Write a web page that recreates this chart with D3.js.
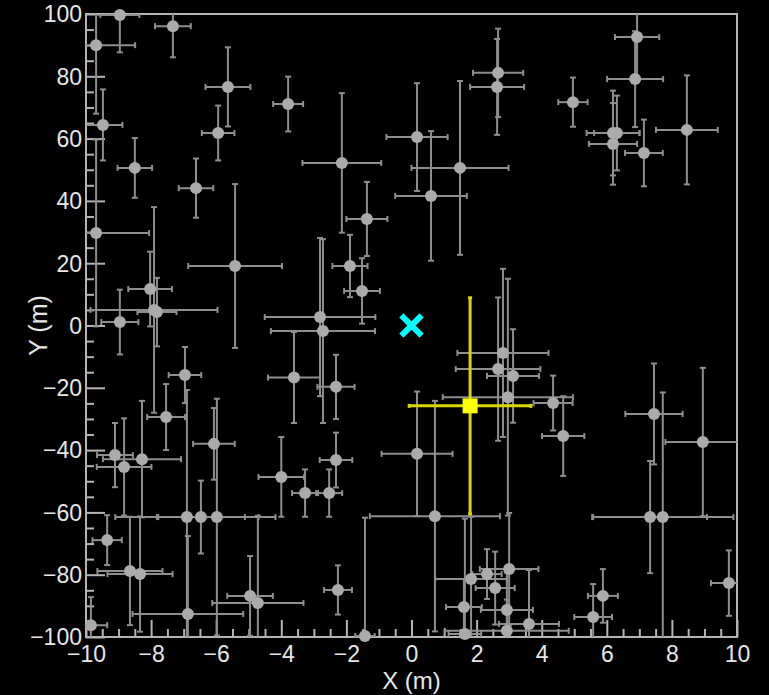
<!DOCTYPE html>
<html>
<head>
<meta charset="utf-8">
<script src="https://cdn.jsdelivr.net/npm/d3@7"></script>
<style>
  html, body { margin: 0; padding: 0; background: #000; }
  svg { display: block; }
  text { font-family: "Liberation Sans", Arial, Helvetica, sans-serif; }
</style>
</head>
<body>
<svg id="chart" width="769" height="695"></svg>
<script>
// Measured positions (m) and their uncertainties
const ptX = [-8.96, -9.69, -7.33, -5.64, -9.48, -5.94, -8.50, -6.62, -9.69, -3.79,
             -2.14, -1.37, 0.17, 1.49, 0.60, 2.66, 2.63, 6.93, 6.87, 4.96,
             6.19, 6.31, 6.19, 7.14, 8.46, -5.42, -8.96, -8.03, -7.91, -7.82,
             -6.96, -7.54, -6.07, -9.11, -8.83, -8.28, -8.34, -8.65, -6.90, -6.47,
             -5.98, -9.35, -6.87, -9.85, -4.96, -4.72, -4.00, -3.27, -2.53, -2.32,
             0.72, -1.43, -2.26, 0.17, -3.61, -2.32, -2.81, -2.72, -1.89, -1.52,
             2.81, 2.66, 3.12, 2.96, 4.35, 4.66, 7.45, 8.95, 7.33, 7.72,
             9.75, 5.88, 5.58, 3.00, 2.32, 1.83, 2.57, 1.61, 1.64, 2.93,
             2.93, 3.61];
const ptY = [99.7, 90.0, 96.1, 76.6, 64.4, 61.8, 50.6, 44.1, 29.7, 71.1,
             52.2, 34.2, 60.5, 50.6, 41.6, 81.1, 76.6, 92.6, 79.1, 71.7,
             61.8, 61.8, 58.3, 55.4, 62.8, 19.1, 1.1, 11.7, 5.0, 4.3,
             -15.9, -29.4, -38.0, -41.6, -45.4, -42.9, -79.8, -78.8, -61.5, -61.5,
             -61.5, -68.9, -92.6, -96.2, -86.8, -89.1, -48.6, -53.8, -53.8, -43.2,
             -61.2, -99.7, -84.9, -41.2, -16.7, -19.7, 2.7, -1.8, 19.1, 11.1,
             -8.8, -14.0, -16.2, -23.0, -24.9, -35.5, -28.4, -37.4, -61.5, -61.5,
             -82.7, -86.8, -93.6, -78.2, -79.8, -81.4, -84.3, -90.4, -99.0, -91.3,
             -98.0, -95.8];
const ptXErr = [0.60, 1.20, 0.55, 0.69, 0.60, 0.50, 0.53, 0.53, 1.63, 0.46,
                1.21, 0.63, 0.94, 1.49, 1.10, 0.77, 0.83, 0.68, 0.86, 0.45,
                0.81, 0.70, 0.74, 0.58, 0.95, 1.44, 0.57, 0.67, 1.95, 0.60,
                0.50, 0.58, 0.64, 0.55, 0.84, 1.20, 1.00, 1.00, 2.20, 1.35,
                1.80, 0.45, 1.70, 0.50, 0.70, 1.40, 0.70, 0.40, 0.40, 0.50,
                2.00, 0.30, 0.43, 1.09, 0.80, 0.57, 1.70, 1.60, 0.54, 0.55,
                1.40, 1.30, 0.80, 2.00, 0.60, 0.65, 0.88, 1.15, 1.75, 2.17,
                0.55, 0.46, 0.58, 0.90, 0.45, 1.10, 0.60, 0.55, 0.50, 0.80,
                1.90, 0.92];
const ptYErr = [12.0, 22.0, 10.0, 12.7, 11.4, 8.8, 9.6, 9.5, 30.0, 8.8,
                22.4, 11.9, 17.3, 27.9, 20.8, 14.2, 15.4, 14.0, 15.4, 7.9,
                13.6, 12.0, 13.1, 10.7, 17.5, 26.3, 10.4, 12.0, 33.0, 11.0,
                9.0, 10.6, 11.5, 10.3, 15.6, 18.7, 18.5, 17.4, 40.8, 11.7,
                38.0, 8.0, 25.0, 9.0, 12.8, 28.0, 12.8, 7.6, 7.6, 8.8,
                37.0, 38.0, 7.9, 20.0, 14.6, 10.3, 25.4, 29.5, 10.0, 10.5,
                27.0, 23.0, 15.0, 38.0, 8.8, 12.8, 16.2, 23.8, 18.0, 40.0,
                10.5, 8.6, 10.6, 18.0, 8.0, 20.0, 11.7, 9.0, 37.0, 12.0,
                10.0, 17.3];

// Combined estimate (yellow) and the reference origin (cyan cross)
const bestX = [1.80];
const bestY = [-25.8];
const bestXErr = [1.87];
const bestYErr = [34.7];
const originX = [0];
const originY = [0];

// Axis ticks
const xMajor = [-10, -8, -6, -4, -2, 0, 2, 4, 6, 8, 10];
const yMajor = [-100, -80, -60, -40, -20, 0, 20, 40, 60, 80, 100];
const xMinor = d3.range(-10, 10.001, 0.5).filter(v => Math.abs(v % 2) > 1e-9);
const yMinor = d3.range(-100, 100.001, 5).filter(v => Math.abs(v % 20) > 1e-9);
const xTitle = "X (m)";
const yTitle = "Y (m)";

const svg = d3.select("#chart");
const W = 769, H = 695;
const m = { left: 86, top: 14, right: 32, bottom: 58 };
const iw = W - m.left - m.right, ih = H - m.top - m.bottom;

svg.append("rect").attr("width", W).attr("height", H).attr("fill", "#000");

const x = d3.scaleLinear().domain([-10, 10]).range([0, iw]);
const y = d3.scaleLinear().domain([-100, 100]).range([ih, 0]);

const g = svg.append("g").attr("transform", `translate(${m.left},${m.top})`);

svg.append("defs").append("clipPath").attr("id", "frameClip")
  .append("rect").attr("width", iw).attr("height", ih);

const axisCol = "#b4b4b4";
const labelCol = "#e6e6e6";

// axes: ticks pointing into the frame
const xAxMinor = g.append("g").attr("transform", `translate(0,${ih})`)
  .call(d3.axisBottom(x).tickValues(xMinor).tickSize(-8).tickFormat(""));
const xAx = g.append("g").attr("transform", `translate(0,${ih})`)
  .call(d3.axisBottom(x).tickValues(xMajor).tickSize(-17).tickFormat(d3.format("d")));
const yAxMinor = g.append("g")
  .call(d3.axisLeft(y).tickValues(yMinor).tickSize(-8).tickFormat(""));
const yAx = g.append("g")
  .call(d3.axisLeft(y).tickValues(yMajor).tickSize(-19).tickFormat(d3.format("d")));

[xAxMinor, xAx, yAxMinor, yAx].forEach(a => {
  a.select(".domain").remove();
  a.selectAll(".tick line").attr("stroke", axisCol).attr("stroke-width", 2);
});
xAx.selectAll(".tick text")
  .attr("y", 25).attr("dy", 0)
  .attr("fill", labelCol).attr("font-size", 23)
  .attr("font-family", "Liberation Sans, Arial, sans-serif");
yAx.selectAll(".tick text")
  .attr("x", -4).attr("dy", "0.34em")
  .attr("fill", labelCol).attr("font-size", 23)
  .attr("font-family", "Liberation Sans, Arial, sans-serif");

// frame
g.append("rect").attr("width", iw).attr("height", ih)
  .attr("fill", "none").attr("stroke", axisCol).attr("stroke-width", 2);

// axis titles
svg.append("text").attr("x", m.left + x(0)).attr("y", 689)
  .attr("text-anchor", "middle").attr("fill", labelCol).attr("font-size", 24)
  .text(xTitle);
svg.append("text")
  .attr("transform", `translate(47,${m.top + y(0)}) rotate(-90)`)
  .attr("text-anchor", "middle").attr("fill", labelCol).attr("font-size", 25)
  .text(yTitle);

// error bars with short end caps
function drawErrors(layer, xs, ys, exs, eys, color, width, cap) {
  const idx = d3.range(xs.length);
  const bars = layer.selectAll(null).data(idx).enter().append("g");
  bars.append("line")
    .attr("x1", i => x(xs[i] - exs[i])).attr("x2", i => x(xs[i] + exs[i]))
    .attr("y1", i => y(ys[i])).attr("y2", i => y(ys[i]));
  bars.append("line")
    .attr("x1", i => x(xs[i])).attr("x2", i => x(xs[i]))
    .attr("y1", i => y(ys[i] - eys[i])).attr("y2", i => y(ys[i] + eys[i]));
  [-1, 1].forEach(s => {
    bars.append("line")
      .attr("x1", i => x(xs[i] + s * exs[i])).attr("x2", i => x(xs[i] + s * exs[i]))
      .attr("y1", i => y(ys[i]) - cap).attr("y2", i => y(ys[i]) + cap);
    bars.append("line")
      .attr("x1", i => x(xs[i]) - cap).attr("x2", i => x(xs[i]) + cap)
      .attr("y1", i => y(ys[i] + s * eys[i])).attr("y2", i => y(ys[i] + s * eys[i]));
  });
  bars.selectAll("line").attr("stroke", color).attr("stroke-width", width);
}

const errLayer = g.append("g").attr("clip-path", "url(#frameClip)");
drawErrors(errLayer, ptX, ptY, ptXErr, ptYErr, "#8e8e8e", 2, 3);

g.append("g").selectAll("circle").data(d3.range(ptX.length)).enter().append("circle")
  .attr("cx", i => x(ptX[i])).attr("cy", i => y(ptY[i])).attr("r", 6)
  .attr("fill", "#ababab");

// combined estimate
const bestLayer = g.append("g").attr("clip-path", "url(#frameClip)");
drawErrors(bestLayer, bestX, bestY, bestXErr, bestYErr, "#d8d800", 3, 2);
g.append("g").selectAll("rect").data(d3.range(bestX.length)).enter().append("rect")
  .attr("x", i => x(bestX[i]) - 7.5).attr("y", i => y(bestY[i]) - 7.5)
  .attr("width", 15).attr("height", 15).attr("fill", "#ffff00");

// origin marker
const cr = 8;
g.append("g").selectAll("path").data(d3.range(originX.length)).enter().append("path")
  .attr("d", i => {
    const cx = x(originX[i]), cy = y(originY[i]);
    return `M${cx - cr},${cy - cr}L${cx + cr},${cy + cr}M${cx - cr},${cy + cr}L${cx + cr},${cy - cr}`;
  })
  .attr("stroke", "#00ffff").attr("stroke-width", 6).attr("stroke-linecap", "square")
  .attr("fill", "none");
</script>
</body>
</html>
